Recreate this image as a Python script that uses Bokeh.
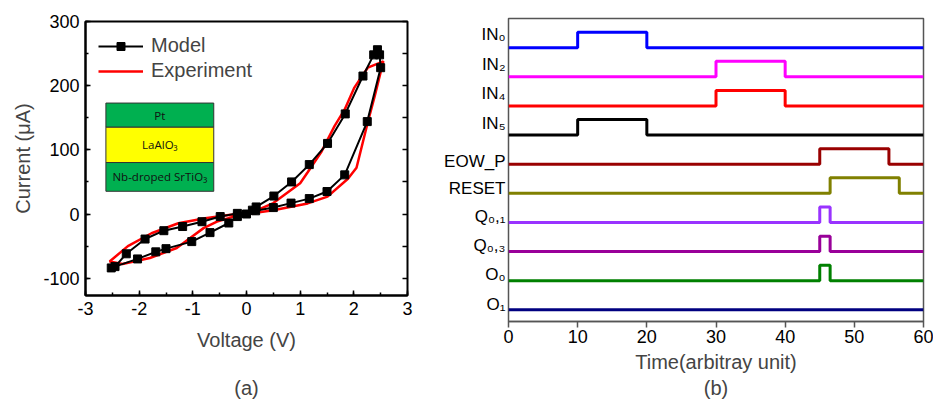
from bokeh.plotting import figure
from bokeh.models import Range1d, LinearAxis, FixedTicker, SingleIntervalTicker
from bokeh.layouts import row
from bokeh.embed import file_html
from bokeh.resources import INLINE
from bokeh.core.properties import value

FONT = "Liberation Sans"

# ---------------- panel (a) data ----------------
model_v = [0.0, 0.17, 0.5, 0.83, 1.17, 1.5, 1.83, 2.25, 2.5, 2.48, 2.44, 2.37,
           2.17, 1.84, 1.51, 1.17, 0.84, 0.51, 0.18, -0.17, -0.33, -0.68, -1.02,
           -1.5, -1.69, -2.03, -2.52, -2.45, -2.24, -1.89, -1.54, -1.19, -0.83,
           -0.49, -0.17, 0.11]
model_i = [0, 5, 10, 17, 24, 35, 61, 144, 228, 248, 256, 248,
           215, 156, 110, 77, 50, 28, 11, -4, -14, -29, -43,
           -54, -59, -70, -84, -82, -62, -39, -26, -19.5, -12,
           -4, 1, 6]

exp_v = [0.0, 0.5, 1.14, 1.51, 1.89, 2.05, 2.26, 2.39, 2.55, 2.26, 2.17, 2.01,
         1.83, 1.64, 1.39, 1.14, 1.0, 0.5, 0.2, 0.0, -0.24, -0.55, -0.8, -1.05,
         -1.3, -1.8, -2.31, -2.55, -2.21, -1.77, -1.27, -0.77, -0.33, 0.17]
exp_i = [0, 6, 16.5, 27, 55, 72, 143, 184, 238, 228, 217, 197,
         163, 137, 96, 65, 48, 17, 6, 0, -4, -11.8, -22, -37.5,
         -53, -68.5, -78, -74, -50, -30, -14.4, -6.6, -1.5, 2.5]

v_ticks = [-3, -2, -1, 0, 1, 2, 3]
i_ticks = [-100, 0, 100, 200, 300]

layer_names = ["Pt", "LaAlO\u2083", "Nb-droped SrTiO\u2083"]
layer_colors = ["#00B050", "#FFFF00", "#00B050"]

# ---------------- panel (b) data ----------------
sig_labels = ["IN\u2080", "IN\u2082", "IN\u2084", "IN\u2085", "EOW_P", "RESET",
              "Q\u2080,\u2081", "Q\u2080,\u2083", "O\u2080", "O\u2081"]
sig_colors = ["#0000FF", "#FF00FF", "#FF0000", "#000000", "#990000",
              "#808000", "#9933FF", "#990099", "#008000", "#000080"]
pulse_start = [10, 30, 30, 10, 45, 46.5, 45, 45, 45, None]
pulse_end = [20, 40, 40, 20, 55, 56.5, 46.5, 46.5, 46.5, None]
t_ticks = [0, 10, 20, 30, 40, 50, 60]

# ---------------- layout constants ----------------
inset_left, inset_right = -2.62, -0.61
inset_edges = [172.9, 135.2, 80.2, 35.4]
pulse_h = 0.53
label_y = [9.45, 8.42, 7.42, 6.4, 5.08, 4.17, 3.2, 2.22, 1.2, 0.2]


def hyphen(ticks):
    return {t: (("-" + str(abs(t))) if t < 0 else str(t)) for t in ticks}


# ================= figure (a) =================
p1 = figure(width=440, height=401, output_backend="svg", toolbar_location=None,
            x_range=Range1d(-3, 3), y_range=Range1d(-127, 300),
            min_border_left=85, min_border_right=33, min_border_top=21,
            min_border_bottom=104)
p1.frame_align = False
p1.grid.visible = False
p1.outline_line_color = "black"
p1.outline_line_width = 2
p1.background_fill_color = "white"
p1.border_fill_color = "white"

for ax in (p1.xaxis[0], p1.yaxis[0]):
    ax.major_tick_in = 5
    ax.major_tick_out = 0
    ax.minor_tick_in = 3
    ax.minor_tick_out = 0
    ax.axis_line_width = 2
    ax.major_tick_line_width = 1.5
    ax.minor_tick_line_width = 1.5
    ax.major_label_text_font = FONT
    ax.major_label_text_font_size = "18px"
    ax.major_label_text_color = "black"
    ax.axis_label_text_font = FONT
    ax.axis_label_text_font_size = "20px"
    ax.axis_label_text_font_style = "normal"
p1.xaxis[0].ticker = SingleIntervalTicker(interval=1, num_minor_ticks=2)
p1.yaxis[0].ticker = SingleIntervalTicker(interval=100, num_minor_ticks=2)
p1.xaxis[0].major_label_overrides = hyphen(v_ticks)
p1.yaxis[0].major_label_overrides = hyphen(i_ticks)
p1.xaxis[0].axis_label = "Voltage (V)\n(a)"
p1.xaxis[0].axis_label_text_line_height = 2.2
p1.yaxis[0].axis_label = "Current (\u03bcA)"
p1.xaxis[0].major_label_standoff = 6
p1.yaxis[0].major_label_standoff = 6
p1.xaxis[0].axis_label_standoff = 11
p1.yaxis[0].axis_label_standoff = 6

r_ticks = list(range(-100, 301, 50))
rax = LinearAxis(ticker=FixedTicker(ticks=r_ticks),
                 major_label_overrides={t: "" for t in r_ticks},
                 major_tick_in=5, major_tick_out=0,
                 axis_line_color=None, major_tick_line_width=1.5)
p1.add_layout(rax, "right")

# inset stack
for k in range(3):
    p1.quad(left=[inset_left], right=[inset_right], top=[inset_edges[k]],
            bottom=[inset_edges[k + 1]], fill_color=layer_colors[k],
            line_color="#333333", line_width=1)
    p1.text(x=[(inset_left + inset_right) / 2],
            y=[(inset_edges[k] + inset_edges[k + 1]) / 2], text=[layer_names[k]],
            text_align="center", text_baseline="middle",
            text_font=value("Open Sans"), text_font_size="11.5px", text_color="#111111")

p1.line(exp_v, exp_i, line_color="#FF0000", line_width=2.5, legend_label="Experiment")
p1.line(model_v, model_i, line_color="black", line_width=2, legend_label="Model")
p1.scatter(model_v, model_i, marker="square", size=8, fill_color="black",
           line_color="black", legend_label="Model")

leg = p1.legend[0]
leg.items = [leg.items[1], leg.items[0]]
leg.location = "top_left"
leg.margin = 13
leg.padding = 6
leg.spacing = 2
leg.glyph_width = 45
leg.label_standoff = 8
leg.label_text_font = FONT
leg.label_text_font_size = "20px"
leg.background_fill_alpha = 0
leg.border_line_color = None

# ================= figure (b) =================
p2 = figure(width=493, height=401, output_backend="svg", toolbar_location=None,
            x_range=Range1d(0, 60), y_range=Range1d(-0.4, 10.0),
            min_border_left=68, min_border_right=10, min_border_top=18,
            min_border_bottom=80)
p2.frame_align = False
p2.grid.visible = False
p2.outline_line_color = "#555555"
p2.outline_line_width = 1.5
p2.background_fill_color = "white"
p2.border_fill_color = "white"

xa = p2.xaxis[0]
xa.ticker = FixedTicker(ticks=t_ticks)
xa.major_tick_in = 0
xa.major_tick_out = 6
xa.minor_tick_in = 0
xa.minor_tick_out = 0
xa.axis_line_color = "#555555"
xa.axis_line_width = 1.5
xa.major_tick_line_color = "#555555"
xa.major_tick_line_width = 1.5
xa.major_label_text_font = FONT
xa.major_label_text_font_size = "18px"
xa.major_label_text_color = "black"
xa.major_label_standoff = 2
xa.axis_label = "Time(arbitray unit)\n(b)"
xa.axis_label_text_line_height = 1.2
xa.axis_label_text_font = FONT
xa.axis_label_text_font_size = "20px"
xa.axis_label_text_font_style = "normal"
xa.axis_label_standoff = 5

ya = p2.yaxis[0]
ya.ticker = FixedTicker(ticks=label_y)
ya.major_label_overrides = {label_y[i]: sig_labels[i] for i in range(len(sig_labels))}
ya.axis_line_color = None
ya.major_tick_line_color = None
ya.minor_tick_line_color = None
ya.major_tick_in = 0
ya.major_tick_out = 0
ya.major_label_standoff = 3
ya.major_label_text_font = FONT
ya.major_label_text_font_size = "17px"
ya.major_label_text_color = "black"

n = len(sig_labels)
for i in range(n):
    base = n - 1 - i
    if pulse_start[i] is None:
        xs = [0, 60]
        ys = [base, base]
    else:
        xs = [0, pulse_start[i], pulse_start[i], pulse_end[i], pulse_end[i], 60]
        ys = [base, base, base + pulse_h, base + pulse_h, base, base]
    p2.line(xs, ys, line_color=sig_colors[i], line_width=3)

layout = row(p1, p2)
open("out.html", "w").write(file_html(layout, INLINE))
